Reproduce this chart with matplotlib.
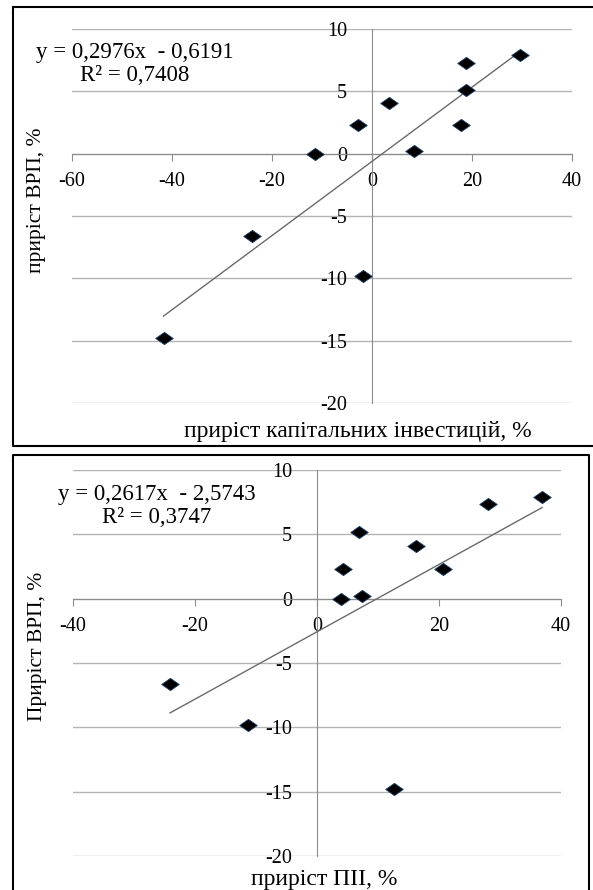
import matplotlib
matplotlib.use("Agg")
import matplotlib.pyplot as plt
from matplotlib.lines import Line2D
from matplotlib.path import Path

plt.rcParams['font.family'] = ['Liberation Serif', 'DejaVu Serif']

# top panel: capital investment growth vs GRP growth
inv_x = [29.6, 18.7, 18.7, 3.3, -2.8, 17.7, 8.3, -11.4, -24.1, -1.9, -41.7]
inv_y = [7.9, 7.3, 5.1, 4.1, 2.3, 2.3, 0.2, 0.0, -6.6, -9.8, -14.8]
inv_fit = (0.2976, -0.6191)
inv_eq = "y = 0,2976x  - 0,6191\nR² = 0,7408"

# bottom panel: FDI growth vs GRP growth
fdi_x = [36.9, 28.0, 6.9, 16.2, 4.3, 20.7, 3.9, 7.4, -24.1, -11.3, 12.6]
fdi_y = [7.9, 7.35, 5.2, 4.1, 2.3, 2.3, 0.0, 0.2, -6.6, -9.8, -14.8]
fdi_fit = (0.2617, -2.5743)
fdi_eq = "y = 0,2617x  - 2,5743\nR² = 0,3747"

yticks = [-20, -15, -10, -5, 0, 5, 10]

W, H = 593, 890
fig = plt.figure(figsize=(W / 100, H / 100), dpi=100)

# flattened diamond like the stretched excel marker
diamond = Path([(-1, 0), (0, 0.7), (1, 0), (0, -0.7), (-1, 0)],
               [Path.MOVETO, Path.LINETO, Path.LINETO, Path.LINETO, Path.CLOSEPOLY])


def px_axes(x0, x1, ytop, ybot):
    return fig.add_axes([x0 / W, 1 - ybot / H, (x1 - x0) / W, (ybot - ytop) / H])


def draw_panel(ax, xs, ys, fit, xlim, xticks):
    ax.set_xlim(*xlim)
    ax.set_ylim(-20, 10)
    for s in ['top', 'right']:
        ax.spines[s].set_visible(False)
    ax.spines['left'].set_position(('data', 0))
    ax.spines['bottom'].set_position(('data', 0))
    ax.spines['left'].set_color('#8c8c8c')
    ax.spines['bottom'].set_color('#8c8c8c')
    ax.set_xticks(xticks)
    ax.set_yticks(yticks)
    ax.set_xticklabels([str(t) for t in xticks])
    ax.set_yticklabels([str(t) for t in yticks])
    ax.tick_params(axis='x', direction='out', length=5, color='#8c8c8c',
                   labelsize=14.5, pad=8)
    ax.tick_params(axis='y', length=0, labelsize=14.5, pad=18)
    ax.grid(axis='y', color='#b4b4b4', linewidth=1)
    ax.set_axisbelow(True)
    lo, hi = min(xs), max(xs)
    a, b = fit
    ax.plot([lo, hi], [a * lo + b, a * hi + b], color='#6a6a6a', linewidth=1, zorder=3)
    ax.scatter(xs, ys, marker=diamond, s=160, color='black',
               edgecolors='#1f3f66', linewidths=0.6, zorder=4, clip_on=False)


ax1 = px_axes(72, 572, 29, 403)
draw_panel(ax1, inv_x, inv_y, inv_fit, (-60, 40), [-60, -40, -20, 0, 20, 40])
ax2 = px_axes(73, 561, 470, 856)
draw_panel(ax2, fdi_x, fdi_y, fdi_fit, (-40, 40), [-40, -20, 0, 20, 40])

fig.text(135 / W, 1 - 64 / H, inv_eq, ha='center', va='center', fontsize=16.5,
         linespacing=1.1)
fig.text(157 / W, 1 - 506 / H, fdi_eq, ha='center', va='center', fontsize=16.5,
         linespacing=1.1)

fig.text(358 / W, 1 - 432 / H, "приріст капітальних інвестицій, %", ha='center',
         va='center', fontsize=17)
fig.text(37 / W, 1 - 200 / H, "приріст ВРП, %", ha='center', va='center',
         rotation=90, fontsize=15.5)
fig.text(324 / W, 1 - 880 / H, "приріст ПІІ, %", ha='center', va='center', fontsize=17)
fig.text(38 / W, 1 - 646 / H, "Приріст ВРП, %", ha='center', va='center',
         rotation=90, fontsize=15.5)

# panel frames (top one runs off the right edge, bottom one off the bottom)
frames = [
    [(13, 7), (593, 7), None, (13, 7), (13, 446), (593, 446)],
    [(13, 890), (13, 455), (589, 455), (589, 890)],
]
for pts in frames:
    seg = []
    for p in pts + [None]:
        if p is None:
            if seg:
                xs = [q[0] / W for q in seg]
                ys = [1 - q[1] / H for q in seg]
                fig.add_artist(Line2D(xs, ys, color='black', linewidth=1.5,
                                      transform=fig.transFigure))
            seg = []
        else:
            seg.append(p)

fig.savefig("out.png", dpi=100)
